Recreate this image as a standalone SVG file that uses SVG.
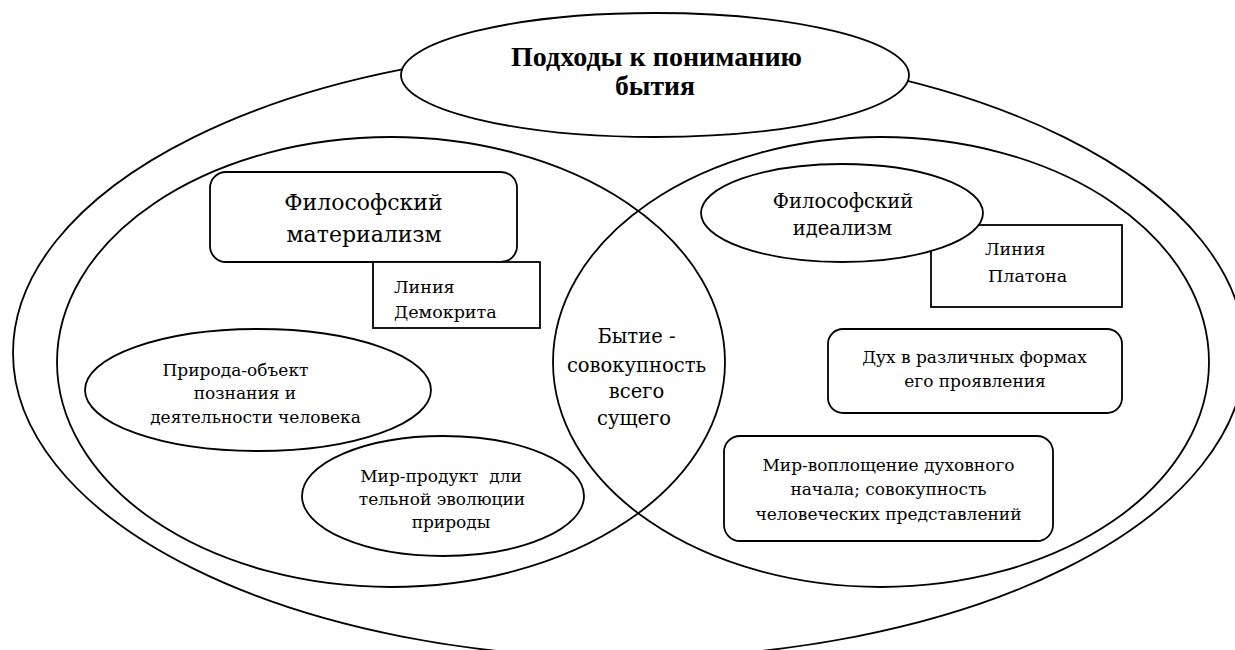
<svg xmlns="http://www.w3.org/2000/svg" width="1235" height="650" viewBox="0 0 1235 650">
  <style>
    .ln { fill: none; stroke: #000; stroke-width: 1.8; }
    .box { fill: #fff; stroke: #000; stroke-width: 1.8; }
    .sf { font-family: "DejaVu Serif", serif; fill: #000; }
    .t22 { font-size: 22px; }
    .t19 { font-size: 19.5px; }
    .t17 { font-size: 17.5px; }
    .t17s { font-size: 17px; }
    .mid { text-anchor: middle; }
    .title { font-family: "Liberation Serif", "DejaVu Serif", serif; font-size: 28px; font-weight: 700; }
  </style>
  <rect width="1235" height="650" fill="#fff"/>

  <!-- outer boundary and the two overlapping fields -->
  <g id="fields">
    <ellipse id="outer" class="ln" cx="629" cy="353" rx="616" ry="305"/>
    <ellipse id="materialism-field" class="ln" cx="391" cy="362" rx="334" ry="225"/>
    <ellipse id="idealism-field" class="ln" cx="881" cy="362" rx="328" ry="225"/>
  </g>

  <g id="connectors"/>

  <g id="title">
    <ellipse class="box" cx="655" cy="75" rx="254" ry="62"/>
    <text class="title" x="511" y="66" textLength="291" lengthAdjust="spacingAndGlyphs">Подходы к пониманию</text>
    <text class="title" x="615" y="95" textLength="80" lengthAdjust="spacingAndGlyphs">бытия</text>
  </g>

  <g id="being">
    <text class="sf t19 mid" x="636.5" y="343">Бытие -</text>
    <text class="sf t19 mid" x="636.5" y="372">совокупность</text>
    <text class="sf t19 mid" x="636.5" y="398">всего</text>
    <text class="sf t19 mid" x="634" y="425">сущего</text>
  </g>

  <g id="materialism">
    <rect class="box" x="210" y="172" width="307" height="90" rx="16"/>
    <text class="sf t22 mid" x="363.5" y="210">Философский</text>
    <text class="sf t22 mid" x="364" y="242">материализм</text>
  </g>

  <g id="democritus">
    <rect class="box" x="373" y="262" width="167" height="66"/>
    <text class="sf t17" x="394" y="293">Линия</text>
    <text class="sf t17" x="394" y="318">Демокрита</text>
  </g>

  <g id="nature">
    <ellipse class="box" cx="258" cy="390" rx="173" ry="61"/>
    <text class="sf t17s mid" x="235.5" y="376">Природа-объект</text>
    <text class="sf t17s mid" x="245" y="399">познания и</text>
    <text class="sf t17s mid" x="255.5" y="423">деятельности человека</text>
  </g>

  <g id="world-product">
    <ellipse class="box" cx="443" cy="496" rx="141" ry="60"/>
    <text class="sf t17s mid" x="441" y="482" xml:space="preserve">Мир-продукт  дли</text>
    <text class="sf t17s mid" x="442" y="505">тельной эволюции</text>
    <text class="sf t17s mid" x="451" y="528">природы</text>
  </g>

  <g id="plato">
    <rect class="box" x="931" y="225" width="191" height="82"/>
    <text class="sf t17" x="985" y="255">Линия</text>
    <text class="sf t17" x="988" y="282">Платона</text>
  </g>

  <g id="idealism">
    <ellipse class="box" cx="842" cy="213" rx="141" ry="49"/>
    <text class="sf t19 mid" x="843" y="208">Философский</text>
    <text class="sf t19 mid" x="842.5" y="235">идеализм</text>
  </g>

  <g id="spirit">
    <rect class="box" x="828" y="329" width="294" height="84" rx="15"/>
    <text class="sf t17s mid" x="974.5" y="363">Дух в различных формах</text>
    <text class="sf t17s mid" x="975" y="387">его проявления</text>
  </g>

  <g id="world-embodiment">
    <rect class="box" x="724" y="436" width="329" height="105" rx="16"/>
    <text class="sf t17s mid" x="888.5" y="471">Мир-воплощение духовного</text>
    <text class="sf t17s mid" x="888.5" y="495">начала; совокупность</text>
    <text class="sf t17s mid" x="888.5" y="520">человеческих представлений</text>
  </g>
</svg>
